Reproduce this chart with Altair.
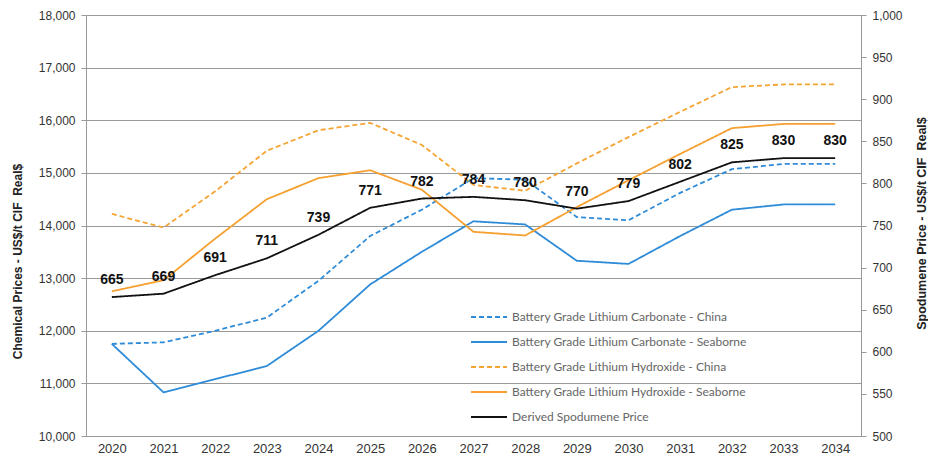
import altair as alt
import pandas as pd

years = [str(y) for y in range(2020, 2035)]

series_names = [
    "Battery Grade Lithium Carbonate - China",
    "Battery Grade Lithium Carbonate - Seaborne",
    "Battery Grade Lithium Hydroxide - China",
    "Battery Grade Lithium Hydroxide - Seaborne",
    "Derived Spodumene Price",
]

carb_china = [11750, 11780, 12000, 12250, 12950, 13800, 14300, 14900, 14870, 14160, 14100, 14620, 15070, 15170, 15170]
carb_sea = [11750, 10830, 11080, 11330, 12000, 12880, 13500, 14080, 14020, 13330, 13270, 13800, 14300, 14400, 14400]
hyd_china = [14220, 13960, 14650, 15420, 15810, 15950, 15530, 14770, 14660, 15180, 15680, 16160, 16630, 16680, 16680]
hyd_sea = [12750, 12960, 13750, 14500, 14900, 15050, 14680, 13880, 13810, 14350, 14860, 15360, 15850, 15930, 15930]
spodumene = [665, 669, 691, 711, 739, 771, 782, 784, 780, 770, 779, 802, 825, 830, 830]

left_ticks = [10000, 11000, 12000, 13000, 14000, 15000, 16000, 17000, 18000]
right_ticks = [500, 550, 600, 650, 700, 750, 800, 850, 900, 950, 1000]

rows = []
for name, vals in zip(series_names, [carb_china, carb_sea, hyd_china, hyd_sea, spodumene]):
    for y, v in zip(years, vals):
        rows.append({"year": y, "series": name, "value": v})
df = pd.DataFrame(rows)

colors = ["#2E8BD8", "#2E8BD8", "#F5A434", "#F5A030", "#111111"]
dashes = [[5, 3], [1, 0], [5, 3], [1, 0], [1, 0]]
widths = [1.8, 1.8, 1.8, 1.8, 3.5]

FONT = "Liberation Sans"

x_enc = alt.X(
    "year:O",
    sort=years,
    scale=alt.Scale(type="point", padding=0.5),
    axis=alt.Axis(
        title=None, labelAngle=0, ticks=False, labelPadding=6,
        labelFont=FONT, labelFontSize=13, labelColor="#333333",
        domainColor="#999999", grid=False,
    ),
)


def make_legend():
    return alt.Legend(
        title=None, orient="none", legendX=384, legendY=283,
        symbolType="stroke", symbolSize=1296, rowPadding=-14,
        labelFont="Lato", labelFontSize=12, labelColor="#666666",
        labelOffset=4, padding=0, labelLimit=0,
    )


color_enc = alt.Color(
    "series:N", scale=alt.Scale(domain=series_names, range=colors), legend=make_legend()
)
dash_enc = alt.StrokeDash(
    "series:N", scale=alt.Scale(domain=series_names, range=dashes), legend=make_legend()
)
width_enc = alt.StrokeWidth(
    "series:N", scale=alt.Scale(domain=series_names, range=widths), legend=make_legend()
)

base = alt.Chart(df)

chem = base.transform_filter(
    alt.datum.series != "Derived Spodumene Price"
).mark_line().encode(
    x=x_enc,
    y=alt.Y(
        "value:Q",
        scale=alt.Scale(domain=[10000, 18000], nice=False, zero=False),
        axis=alt.Axis(
            title="Chemical Prices - US$/t CIF\u00a0 Real$",
            values=left_ticks, format=",d", orient="left",
            labelFont=FONT, labelFontSize=12, labelColor="#333333",
            labelPadding=6, tickSize=5, tickColor="#999999",
            domainColor="#999999", grid=True, gridColor="#9a9a9a",
            titleFont=FONT, titleFontSize=12, titleFontWeight="bold",
            titleColor="#222222", titleAngle=270, titleX=-69, titleY=246,
            titleAlign="center", titleBaseline="middle",
        ),
    ),
    color=color_enc,
    strokeDash=dash_enc,
    strokeWidth=width_enc,
    detail="series:N",
)

spod_base = base.transform_filter(alt.datum.series == "Derived Spodumene Price")

y_right = alt.Y(
    "value:Q",
    scale=alt.Scale(domain=[500, 1000], nice=False, zero=False),
    axis=alt.Axis(
        title="Spodumene Price - US$/t CIF\u00a0 Real$",
        values=right_ticks, format=",d", orient="right",
        labelFont=FONT, labelFontSize=12, labelColor="#333333",
        labelPadding=6, tickSize=5, tickColor="#999999",
        domainColor="#999999", grid=False,
        titleFont=FONT, titleFontSize=12.5, titleFontWeight="bold",
        titleColor="#222222", titleAngle=270, titleX=60, titleY=208,
        titleAlign="center", titleBaseline="middle",
    ),
)

spod_line = spod_base.mark_line().encode(
    x=x_enc, y=y_right, color=color_enc, strokeDash=dash_enc, strokeWidth=width_enc,
)
spod_text = spod_base.mark_text(
    font=FONT, fontSize=14, fontWeight="bold", color="#111111", dy=-17, baseline="middle",
).encode(
    x=x_enc, y=y_right, text=alt.Text("value:Q", format="d"),
)

chart = alt.layer(
    chem, alt.layer(spod_line, spod_text)
).resolve_scale(y="independent").properties(
    width=775, height=421,
    autosize=alt.AutoSizeParams(type="none"),
    padding={"left": 78, "top": 7, "right": 67, "bottom": 22},
).configure_view(stroke=None).configure(background="white")

chart.save("out.html", embed_options={"renderer": "svg", "actions": False})
